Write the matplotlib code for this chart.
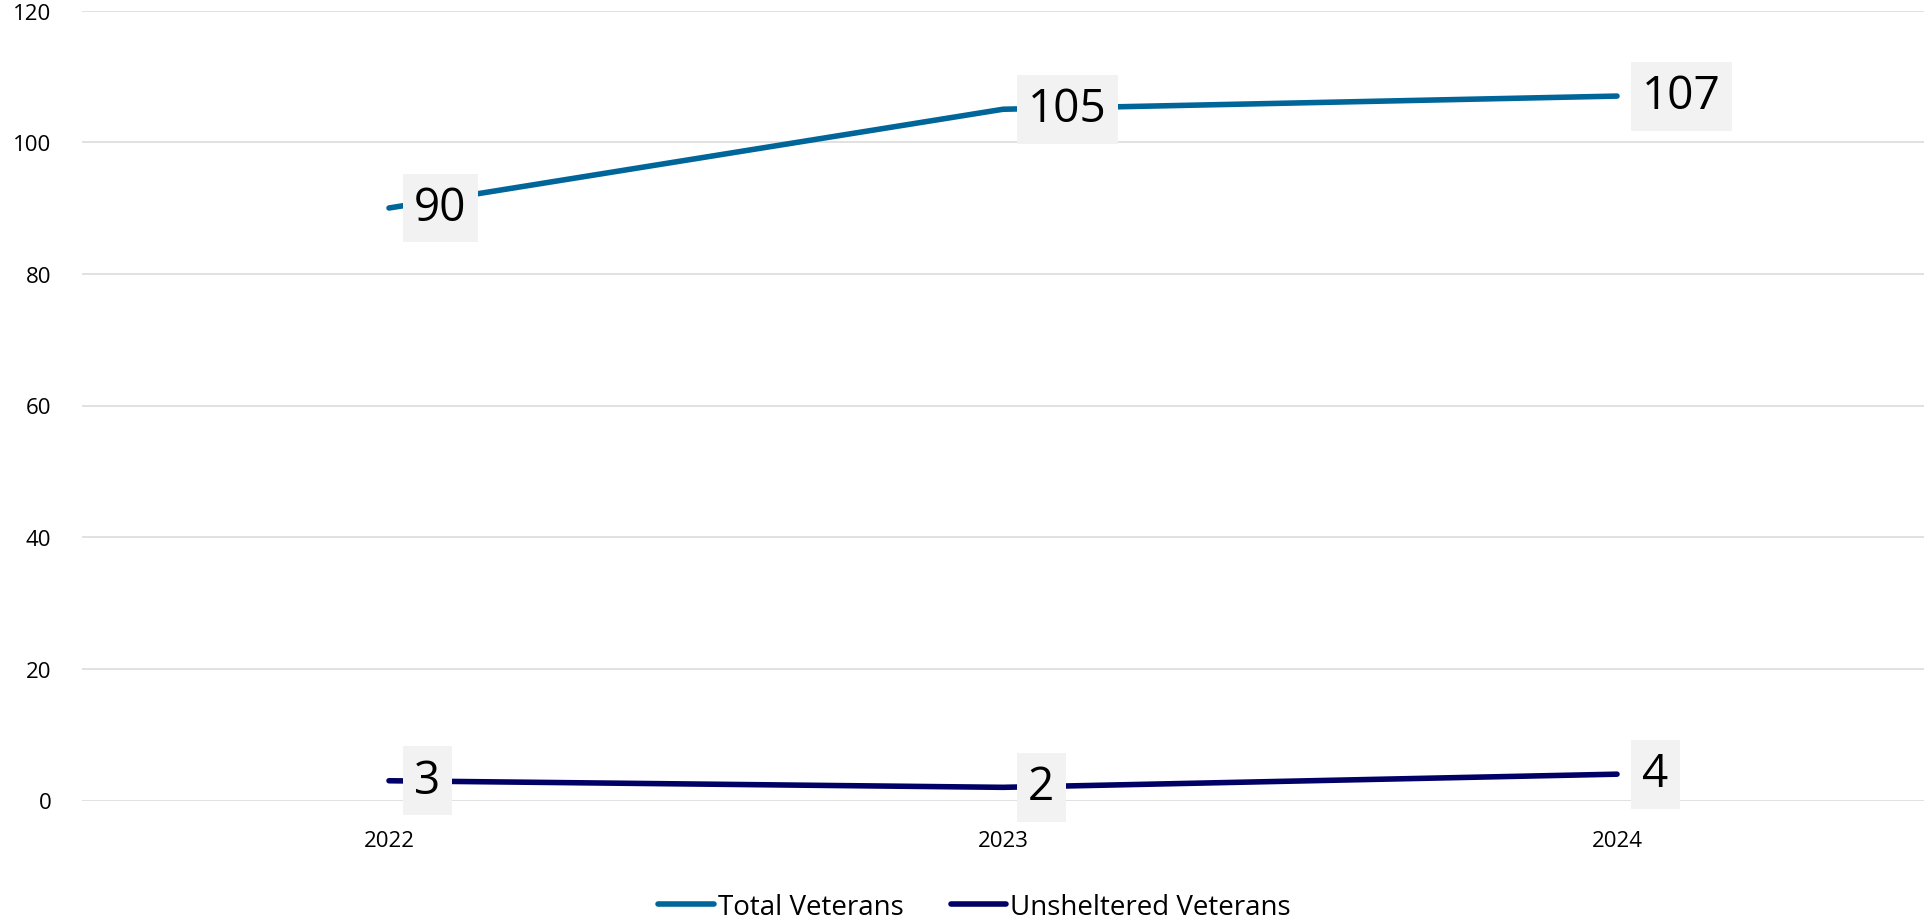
import matplotlib.pyplot as plt

plt.rcParams['font.family'] = ['Open Sans', 'DejaVu Sans']

years = ['2022', '2023', '2024']
total_veterans = [90, 105, 107]
unsheltered_veterans = [3, 2, 4]
yticks = [0, 20, 40, 60, 80, 100, 120]

fig = plt.figure(figsize=(19.26, 9.2), dpi=100)
ax = fig.add_axes([82 / 1926, 1 - 801.5 / 920, 1842 / 1926, 790 / 920])

x = list(range(len(years)))
series = [
    ('Total Veterans', total_veterans, '#006699'),
    ('Unsheltered Veterans', unsheltered_veterans, '#000066'),
]
for name, vals, col in series:
    ax.plot(x, vals, color=col, lw=4, solid_capstyle='round', label=name,
            zorder=3, clip_on=False)
    # value labels sit right of each point on a light grey box
    for xi, v in zip(x, vals):
        ax.annotate(str(v), (xi, v), xytext=(18, 0), textcoords='offset points',
                    ha='left', va='center', fontsize=33, color='black', zorder=5,
                    bbox=dict(boxstyle='square,pad=0.25', fc='#F2F2F2', ec='none'))

ax.set_xlim(-0.5, 2.5)
ax.set_ylim(0, 120)
ax.set_xticks(x)
ax.set_xticklabels(years)
ax.set_yticks(yticks)
ax.tick_params(axis='both', length=0, labelsize=16, colors='black')
ax.tick_params(axis='y', pad=22)
ax.tick_params(axis='x', pad=21)
ax.grid(axis='y', color='#D9D9D9', lw=1.1)
ax.set_axisbelow(True)
for s in ax.spines.values():
    s.set_visible(False)

fig.legend(loc='center', bbox_to_anchor=(0.506, 1 - 908 / 920), ncol=2,
           frameon=False, fontsize=20, handlelength=2.0, handletextpad=0.15,
           columnspacing=1.7)

fig.savefig('out.png', dpi=100)
